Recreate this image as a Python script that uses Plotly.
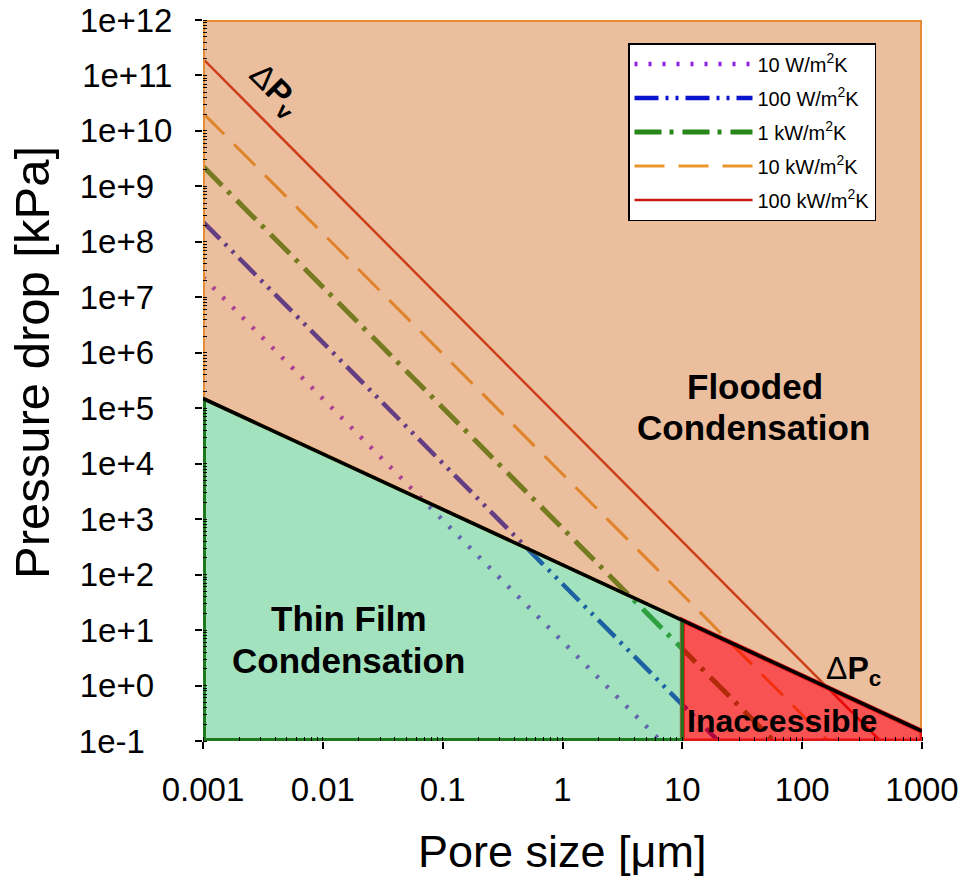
import plotly.graph_objects as go

# ---------------- data ----------------
pore_range = [0.001, 1000]          # µm, x-axis extent
pressure_range = [0.1, 1e12]        # kPa, y-axis extent

x_tickvals = [0.001, 0.01, 0.1, 1, 10, 100, 1000]
x_ticktext = ["0.001", "0.01", "0.1", "1", "10", "100", "1000"]
y_tickvals = [1e-1, 1e0, 1e1, 1e2, 1e3, 1e4, 1e5, 1e6, 1e7, 1e8, 1e9, 1e10, 1e11, 1e12]
y_ticktext = ["1e-1", "1e+0", "1e+1", "1e+2", "1e+3", "1e+4", "1e+5", "1e+6",
              "1e+7", "1e+8", "1e+9", "1e+10", "1e+11", "1e+12"]

# capillary pressure line  ΔPc
pc_pore = [0.001, 10, 1000]
pc_pressure = [1.5e5, 15, 0.15]

# viscous pressure drop lines ΔPv for each heat transfer coefficient
series_names = ["10 W/m<sup>2</sup>K", "100 W/m<sup>2</sup>K", "1 kW/m<sup>2</sup>K",
                "10 kW/m<sup>2</sup>K", "100 kW/m<sup>2</sup>K"]
pv_10W_pore = [0.001, 6.6]
pv_10W_pressure = [2.3e7, 0.1]
pv_100W_pore = [0.001, 20]
pv_100W_pressure = [2.3e8, 0.1]
pv_1kW_pore = [0.001, 58]
pv_1kW_pressure = [2.3e9, 0.1]
pv_10kW_pore = [0.001, 165]
pv_10kW_pressure = [2.1e10, 0.1]
pv_100kW_pore = [0.001, 450]
pv_100kW_pressure = [2.0e11, 0.1]

# ---------------- styles ----------------
FONT = "Liberation Sans, Arial, sans-serif"
line_styles = [
    dict(color="rgb(140,30,230)", width=4.5, dash="3px,11px"),
    dict(color="rgb(10,20,205)", width=4.5, dash="24px,7px,3px,7px,3px,7px"),
    dict(color="rgb(40,135,25)", width=5, dash="27px,8px,4px,9px"),
    dict(color="rgb(235,150,45)", width=3, dash="30px,14px"),
    dict(color="rgb(200,25,15)", width=2.5, dash="solid"),
]
pv_pores = [pv_10W_pore, pv_100W_pore, pv_1kW_pore, pv_10kW_pore, pv_100kW_pore]
pv_pressures = [pv_10W_pressure, pv_100W_pressure, pv_1kW_pressure,
                pv_10kW_pressure, pv_100kW_pressure]

# the reference left-aligns its y tick labels: pad shorter ones with no-break spaces
NBSP = "\u00a0"


def pad_label(t):
    if t.startswith("1e-"):
        return t + NBSP * 3
    if len(t) == 4:
        return t + NBSP * 2
    return t


y_ticktext_padded = [pad_label(t) for t in y_ticktext]

fig = go.Figure()

# ΔPv lines (drawn first so the translucent regions tint them)
for i, (name, xs, ys, st) in enumerate(zip(series_names, pv_pores, pv_pressures, line_styles)):
    fig.add_trace(go.Scatter(x=xs, y=ys, mode="lines", name=name, line=st,
                             legendgroup=f"g{i}", hoverinfo="skip"))

# Region polygons built from the ΔPc line and the axis extents
flood_x = [pore_range[0], pore_range[1]] + pc_pore[::-1] + [pore_range[0]]
flood_y = [pressure_range[1], pressure_range[1]] + pc_pressure[::-1] + [pressure_range[1]]
fig.add_trace(go.Scatter(x=flood_x, y=flood_y, mode="lines", fill="toself",
                         fillcolor="rgba(210,110,40,0.45)",
                         line=dict(color="rgb(230,140,50)", width=4),
                         showlegend=False, hoverinfo="skip"))

inacc_x = [pc_pore[1], pc_pore[1], pc_pore[2], pc_pore[2], pc_pore[1]]
inacc_y = [pressure_range[0], pc_pressure[1], pc_pressure[2], pressure_range[0], pressure_range[0]]
fig.add_trace(go.Scatter(x=inacc_x, y=inacc_y, mode="lines", fill="toself",
                         fillcolor="rgba(245,0,0,0.68)",
                         line=dict(color="rgb(225,20,20)", width=5),
                         showlegend=False, hoverinfo="skip"))

thin_x = [pc_pore[0], pc_pore[0], pc_pore[1], pc_pore[1], pc_pore[0]]
thin_y = [pressure_range[0], pc_pressure[0], pc_pressure[1], pressure_range[0], pressure_range[0]]
fig.add_trace(go.Scatter(x=thin_x, y=thin_y, mode="lines", fill="toself",
                         fillcolor="rgba(50,190,110,0.45)",
                         line=dict(color="rgb(30,120,30)", width=3),
                         showlegend=False, hoverinfo="skip"))
# heavier dark-green outline on the left and bottom edges of the thin-film region
fig.add_trace(go.Scatter(x=thin_x[:2], y=thin_y[:2], mode="lines",
                         line=dict(color="rgb(30,120,30)", width=6),
                         showlegend=False, hoverinfo="skip"))
fig.add_trace(go.Scatter(x=[thin_x[0], thin_x[3]], y=[thin_y[0], thin_y[3]], mode="lines",
                         line=dict(color="rgb(30,120,30)", width=6),
                         showlegend=False, hoverinfo="skip"))

# ΔPc line on top
fig.add_trace(go.Scatter(x=pc_pore, y=pc_pressure, mode="lines",
                         line=dict(color="black", width=3.5),
                         showlegend=False, hoverinfo="skip"))

W, H = 964, 883
ML, MR, MT, MB = 203, 42, 20, 142
PW, PH = W - ML - MR, H - MT - MB


def px(xp):
    return (xp - ML) / PW


def py(yp):
    return (H - MB - yp) / PH


annotations = [
    dict(text="<b>Flooded</b>", x=px(755), y=py(386), size=35),
    dict(text="<b>Condensation</b>", x=px(753), y=py(427), size=35),
    dict(text="<b>Thin Film</b>", x=px(349), y=py(618), size=35),
    dict(text="<b>Condensation</b>", x=px(348), y=py(660), size=35),
    dict(text="<b>Inaccessible</b>", x=px(782), y=py(721), size=32),
    dict(text="Δ<b>P<sub>c</sub></b>", x=px(853), y=py(670), size=32),
    dict(text="Δ<b>P<sub>v</sub></b>", x=px(274), y=py(90), size=33, angle=45),
    dict(text="Pore size [μm]", x=px(562), y=py(851), size=45),
    dict(text="Pressure drop [kPa]", x=px(32), y=py(363), size=49, angle=-90),
]
ann_objs = []
for a in annotations:
    ann_objs.append(dict(text=a["text"], x=a["x"], y=a["y"], xref="paper", yref="paper",
                         xanchor="center", yanchor="middle", showarrow=False,
                         textangle=a.get("angle", 0),
                         font=dict(family=FONT, size=a["size"], color="black")))

axis_common = dict(type="log", showgrid=False, zeroline=False, showline=False,
                   ticks="outside", ticklen=7, tickwidth=1.5, tickcolor="black",
                   tickfont=dict(family=FONT, size=33, color="black"),
                   automargin=False, layer="above traces",
                   minor=dict(ticks="inside", ticklen=4, tickwidth=1, tickcolor="black",
                              dtick="D1", showgrid=False))

fig.update_layout(
    width=W, height=H,
    margin=dict(l=ML, r=MR, t=MT, b=MB, pad=0),
    paper_bgcolor="white", plot_bgcolor="white",
    xaxis=dict(axis_common, range=[-3, 3], tickmode="array",
               tickvals=x_tickvals, ticktext=x_ticktext, ticklabelstandoff=12),
    yaxis=dict(axis_common, range=[-1, 12], tickmode="array",
               tickvals=y_tickvals, ticktext=y_ticktext_padded, ticklabelstandoff=16),
    legend=dict(x=px(628), y=py(43), xanchor="left", yanchor="top",
                bgcolor="white", bordercolor="black", borderwidth=1.5,
                font=dict(family=FONT, size=20, color="black"),
                itemwidth=118, tracegroupgap=5),
    annotations=ann_objs,
    showlegend=True,
)

fig.write_html("out.html")
